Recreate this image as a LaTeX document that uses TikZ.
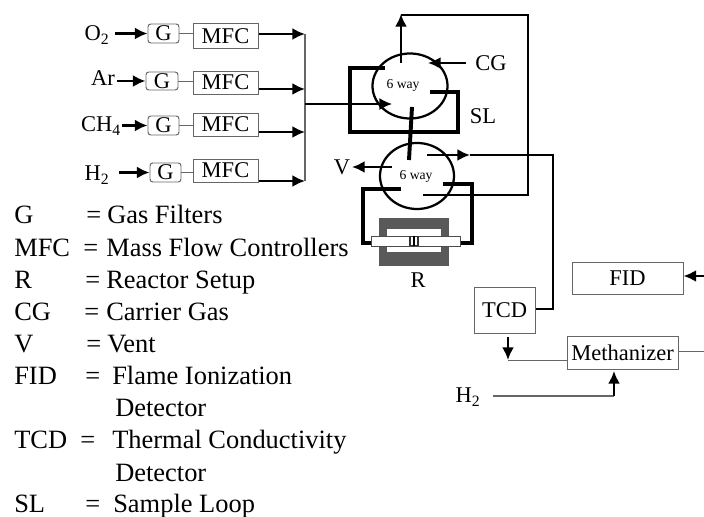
\documentclass[tikz,border=0pt]{standalone}
\usepackage{fontspec}
\setmainfont{Liberation Serif}
\usetikzlibrary{arrows.meta,positioning,calc,shapes.geometric}
\newcommand{\px}{0.7113pt}
\tikzset{
  block/.style    = {draw=black!60, line width=0.7pt, rectangle, inner sep=0pt, font=\fontsize{16}{18}\selectfont},
  gbox/.style     = {block, rounded corners=2pt},
  valve/.style    = {draw, line width=1.6pt, ellipse, inner sep=0pt},
  waytext/.style  = {inner sep=0pt, font=\fontsize{9.7}{11}\selectfont},
  lbl/.style      = {inner sep=0pt, font=\fontsize{16}{18}\selectfont},
  key/.style      = {inner sep=0pt, anchor=base west, font=\fontsize{18.8}{20}\selectfont},
  sig/.style      = {-{Latex[length=9pt,width=8.5pt]}, line width=1.6pt},
  pipe/.style     = {line width=1.6pt},
  thinline/.style = {draw=black!60, line width=0.7pt},
  loopline/.style = {line width=2.8pt},
}
\begin{document}
\begin{tikzpicture}[x=0.025cm,y=-0.025cm]
\useasboundingbox (0,0) rectangle (704,517);
% gas feed
\node[lbl] (LO) at (97,35) {O\textsubscript{2}};
\node[lbl] (LA) at (103,78) {Ar};
\node[lbl] (LC) at (101,126) {CH\textsubscript{4}};
\node[lbl] (LH) at (97,175) {H\textsubscript{2}};
\node[gbox,minimum width=31*\px,minimum height=19*\px] (G1) at (163.5,33.5) {G};
\node[gbox,minimum width=32*\px,minimum height=18*\px] (G2) at (162,81) {G};
\node[gbox,minimum width=31*\px,minimum height=19*\px] (G3) at (163.5,125.5) {G};
\node[gbox,minimum width=31*\px,minimum height=19*\px] (G4) at (165.5,172.5) {G};
\node[block,minimum width=65*\px,minimum height=24*\px] (M1) at (225.5,36) {MFC};
\node[block,minimum width=65*\px,minimum height=23*\px] (M2) at (225.5,82.5) {MFC};
\node[block,minimum width=65*\px,minimum height=23*\px] (M3) at (225.5,124.5) {MFC};
\node[block,minimum width=65*\px,minimum height=23*\px] (M4) at (225.5,170.5) {MFC};
\coordinate (O1) at (115,33.5);
\coordinate (O2) at (117,81);
\coordinate (O3) at (122,125.5);
\coordinate (O4) at (119,172.5);
\draw[sig] (O1) -- (G1);
\draw[sig] (O2) -- (G2);
\draw[sig] (O3) -- (G3);
\draw[sig] (O4) -- (G4);
\draw[thinline] (G1.east) -- (M1.west |- G1.east);
\draw[thinline] (G2.east) -- (M2.west |- G2.east);
\draw[thinline] (G3.east) -- (M3.west |- G3.east);
\draw[thinline] (G4.east) -- (M4.west |- G4.east);
\coordinate (B1) at (305,34);
\coordinate (B2) at (305,89);
\coordinate (B3) at (305,132);
\coordinate (B4) at (305,181);
\coordinate (J) at (305,104);
\draw[draw=black!60,line width=1.2pt] (B1) -- (B4);
\draw[sig] (M1.east |- B1) -- (B1);
\draw[sig] (M2.east |- B2) -- (B2);
\draw[sig] (M3.east |- B3) -- (B3);
\draw[sig] (M4.east |- B4) -- (B4);
% valves
\node[valve,minimum width=75*\px,minimum height=65*\px] (V1) at (410,86) {};
\node[valve,minimum width=74*\px,minimum height=66*\px] (V2) at (417,176) {};
\node[waytext] (W1) at (403,85) {6 way};
\node[waytext] (W2) at (416,176) {6 way};
\coordinate (A1) at (392,104);
\draw[sig,line width=1.2pt] (J) -- (A1);
\coordinate (P1) at (401,63);
\coordinate (P2) at (401,14);
\coordinate (P3) at (528,15);
\coordinate (P4) at (528,195);
\coordinate (P5) at (423,195);
\draw[sig] (P1) -- (P2);
\draw[pipe] (P2 |- P3) -- (P3) -- (P4) -- (P5);
\coordinate (C1) at (466,63);
\coordinate (C2) at (428,63);
\draw[sig] (C1) -- (C2);
\node[lbl] (CG) at (491,63) {CG};
\node[lbl] (SL) at (483,116) {SL};
\coordinate (L1) at (385,68);
\coordinate (L2) at (350,68);
\coordinate (L3) at (350,132);
\coordinate (L4) at (458,132);
\coordinate (L5) at (458,92);
\coordinate (L6) at (430,92);
\draw[loopline] (L1) -- (L2) -- (L3) -- (L4) -- (L5) -- (L6);
\coordinate (T1) at (412,107);
\coordinate (T2) at (409,160);
\draw[loopline] (T1) -- (T2);
\coordinate (X1) at (392,167);
\coordinate (X2) at (352,167);
\draw[sig] (X1) -- (X2);
\node[lbl] (VT) at (342,167) {V};
% reactor
\node[fill=black!65,minimum width=70*\px,minimum height=48*\px,inner sep=0pt] (R0) at (414,242) {};
\node[fill=white,minimum width=54*\px,minimum height=23*\px,inner sep=0pt] (R1) at (414,241) {};
\coordinate (H1) at (401,189);
\coordinate (H2) at (363,189);
\coordinate (H3) at (363,243);
\coordinate (H4) at (372,243);
\coordinate (H5) at (443,184);
\coordinate (H6) at (472,184);
\coordinate (H7) at (472,243);
\coordinate (H8) at (461,243);
\draw[loopline] (H1) -- (H2) -- (H3) -- (H4);
\draw[loopline] (H5) -- (H6) -- (H7) -- (H8);
\node[fill=white,draw=black!70,line width=0.7pt,minimum width=89*\px,minimum height=10*\px,inner sep=0pt] (R2) at (415.5,241) {};
\node[draw=black!80,line width=1.2pt,minimum width=8*\px,minimum height=9*\px,inner sep=0pt] (R3) at (414,241) {};
\draw[line width=1pt] (R3.north) -- (R3.south);
\node[lbl] (RT) at (418,280) {R};
% detectors
\node[block,minimum width=61*\px,minimum height=46*\px] (TCD) at (504.5,310) {TCD};
\node[block,minimum width=111*\px,minimum height=32*\px] (FID) at (627.5,278) {FID};
\node[block,minimum width=111*\px,minimum height=33*\px] (MT) at (622.5,352.5) {Methanizer};
\coordinate (D1) at (427,155);
\coordinate (D2) at (470,155);
\coordinate (D3) at (553,155);
\coordinate (D4) at (553,309);
\draw[sig] (D1) -- (D2);
\draw[pipe] (D2) -- (D3) -- (D4) -- (TCD.east |- D4);
\coordinate (F1) at (704,276);
\draw[sig] (F1) -- (F1 -| FID.east);
\coordinate (M5) at (704,351);
\draw[thinline] (M5 -| MT.east) -- (M5);
\coordinate (Q1) at (508,337);
\coordinate (Q2) at (508,360);
\draw[sig] (Q1) -- (Q2);
\draw[thinline] (Q2 -| MT.west) -- (Q2);
\node[lbl] (HL) at (468,397) {H\textsubscript{2}};
\coordinate (N1) at (493,396);
\coordinate (N2) at (614,396);
\coordinate (N3) at (614,371);
\draw[thinline,line width=1pt] (N1) -- (N2);
\draw[sig] (N2) -- (N3);
% legend
\node[key] (K1) at (14,224) {G};
\node[key] (Q01) at (86,224) {=};
\node[key] (T01) at (107,224) {Gas Filters};
\node[key] (K2) at (14,257) {MFC};
\node[key] (Q02) at (83,257) {=};
\node[key] (T02) at (106,257) {Mass Flow Controllers};
\node[key] (K3) at (14,289) {R};
\node[key] (Q03) at (85,289) {=};
\node[key] (T03) at (106,289) {Reactor Setup};
\node[key] (K4) at (14,321) {CG};
\node[key] (Q04) at (84,321) {=};
\node[key] (T04) at (106,321) {Carrier Gas};
\node[key] (K5) at (14,353) {V};
\node[key] (Q05) at (86,353) {=};
\node[key] (T05) at (107,353) {Vent};
\node[key] (K6) at (14,385) {FID};
\node[key] (Q06) at (85,385) {=};
\node[key] (T06) at (112,385) {Flame Ionization};
\node[key] (T07) at (115,417) {Detector};
\node[key] (K8) at (14,449) {TCD};
\node[key] (Q08) at (80,449) {=};
\node[key] (T08) at (112,449) {Thermal Conductivity};
\node[key] (T09) at (115,481) {Detector};
\node[key] (K10) at (14,513) {SL};
\node[key] (Q10) at (85,513) {=};
\node[key] (T10) at (113,513) {Sample Loop};
\end{tikzpicture}
\end{document}
